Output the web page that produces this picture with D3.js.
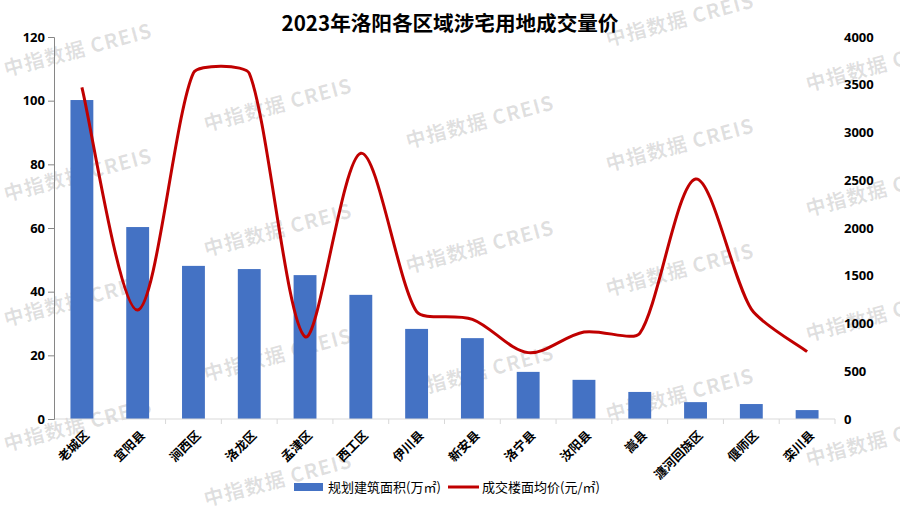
<!DOCTYPE html>
<html><head><meta charset="utf-8">
<script src="https://cdn.jsdelivr.net/npm/d3@7"></script>
<style>
html,body{margin:0;padding:0;background:#fff;}
svg{display:block;font-family:"Noto Sans CJK SC","Noto Sans",sans-serif;}
</style></head>
<body><svg id="chart" width="900" height="510"></svg>
<script>
const categories = ["老城区","宜阳县","涧西区","洛龙区","孟津区","西工区","伊川县","新安县","洛宁县","汝阳县","嵩县","瀍河回族区","偃师区","栾川县"];
const areaValues = [100.2, 60.3, 48.1, 47.1, 45.2, 39.0, 28.3, 25.4, 14.8, 12.3, 8.5, 5.3, 4.7, 2.8];
const priceValues = [3473, 1141, 3625, 3620, 862, 2782, 1124, 1044, 695, 911, 897, 2513, 1150, 705];
const leftTicks = [0, 20, 40, 60, 80, 100, 120];
const rightTicks = [0, 500, 1000, 1500, 2000, 2500, 3000, 3500, 4000];
const seriesNames = ["规划建筑面积(万㎡)", "成交楼面均价(元/㎡)"];
const title = "2023年洛阳各区域涉宅用地成交量价";
const watermark = "中指数据 CREIS";

const svg = d3.select("#chart");
const W = 900, H = 510;
const m = {left: 54, right: 65, top: 37, bottom: 91};
const x = d3.scaleBand().domain(categories).range([m.left, W - m.right]).paddingInner(0.59).paddingOuter(0.295);
const xb = d3.scaleBand().domain(categories).range([m.left, W - m.right]);
const yL = d3.scaleLinear().domain([0, 120]).range([H - m.bottom, m.top]);
const yR = d3.scaleLinear().domain([0, 4000]).range([H - m.bottom, m.top]);

// watermark
const wmCols = [78, 278, 480, 680, 880];
const wmStart = [50, 105, 122, 20, 65];
const wm = svg.append("g");
wmCols.forEach((cx, i) => {
  for (let cy = wmStart[i]; cy < H - 15; cy += 125) {
    wm.append("text").attr("transform", `translate(${cx},${cy}) rotate(-15)`)
      .attr("text-anchor", "middle").attr("dy", "0.35em")
      .style("font-size", "20px").style("font-weight", "bold").style("letter-spacing", "1px")
      .attr("fill", "#000").attr("fill-opacity", 0.12).text(watermark);
  }
});

// title
svg.append("text").attr("x", 450).attr("y", 31).attr("text-anchor", "middle")
  .style("font-size", "20.6px").style("font-weight", "bold").attr("fill", "#000").text(title);

// bars
svg.append("g").selectAll("rect").data(areaValues).join("rect")
  .attr("x", (d, i) => x(categories[i])).attr("width", x.bandwidth())
  .attr("y", d => yL(d)).attr("height", d => yL(0) - yL(d))
  .attr("fill", "#4472C4");

// x axis
const xAxis = svg.append("g").attr("transform", `translate(0,${yL(0)})`);
xAxis.append("line").attr("x1", m.left).attr("x2", W - m.right).attr("stroke", "#d9d9d9").attr("stroke-width", 1);
xAxis.selectAll("line.tk").data(categories.map((c, i) => i)).join("line").attr("class", "tk")
  .attr("x1", i => xb(categories[i]) + xb.bandwidth()).attr("x2", i => xb(categories[i]) + xb.bandwidth())
  .attr("y1", 0).attr("y2", 5).attr("stroke", "#d9d9d9");
xAxis.selectAll("text").data(categories).join("text")
  .attr("transform", d => `translate(${xb(d) + xb.bandwidth() / 2 + 5},${14}) rotate(-45)`)
  .attr("text-anchor", "end").attr("dy", "0.35em")
  .style("font-size", "12.5px").style("font-weight", "bold").attr("fill", "#000").text(d => d);

// left axis
const la = svg.append("g").attr("transform", `translate(${m.left},0)`)
  .call(d3.axisLeft(yL).tickValues(leftTicks).tickSize(6).tickPadding(3));
la.select(".domain").attr("stroke", "#868686");
la.selectAll(".tick line").attr("stroke", "#868686");
la.selectAll("text").style("font-size", "13px").style("font-weight", "bold").attr("fill", "#000")
  .style("font-family", "'Noto Sans', sans-serif");

// right axis (labels only)
const ra = svg.append("g").attr("transform", `translate(${W - m.right},0)`)
  .call(d3.axisRight(yR).tickValues(rightTicks).tickFormat(d3.format("d")).tickSize(0).tickPadding(9));
ra.select(".domain").remove();
ra.selectAll("text").style("font-size", "13px").style("font-weight", "bold").attr("fill", "#000")
  .style("font-family", "'Noto Sans', sans-serif");

// smoothed line (spreadsheet-style bezier smoothing, handles limited by segment-length ratio)
function smoothPath(pts) {
  const p = d3.path();
  const n = pts.length;
  const dist = (a, b) => Math.hypot(b[0] - a[0], b[1] - a[1]);
  p.moveTo(pts[0][0], pts[0][1]);
  for (let i = 0; i < n - 1; i++) {
    const p0 = pts[Math.max(i - 1, 0)], p1 = pts[i], p2 = pts[i + 1], p3 = pts[Math.min(i + 2, n - 1)];
    const d01 = dist(p0, p1), d12 = dist(p1, p2), d23 = dist(p2, p3);
    const r1 = d01 > 0 ? Math.min(1, d12 / d01) : 1;
    const r2 = d23 > 0 ? Math.min(1, d12 / d23) : 1;
    const c1 = [p1[0] + (p2[0] - p0[0]) / 6 * r1, p1[1] + (p2[1] - p0[1]) / 6 * r1];
    const c2 = [p2[0] - (p3[0] - p1[0]) / 6 * r2, p2[1] - (p3[1] - p1[1]) / 6 * r2];
    p.bezierCurveTo(c1[0], c1[1], c2[0], c2[1], p2[0], p2[1]);
  }
  return p.toString();
}
const linePts = priceValues.map((d, i) => [xb(categories[i]) + xb.bandwidth() / 2, yR(d)]);
svg.append("path").attr("d", smoothPath(linePts)).attr("fill", "none")
  .attr("stroke", "#C00000").attr("stroke-width", 3);

// legend
const lg = svg.append("g").attr("transform", "translate(0,487)");
lg.append("rect").attr("x", 294).attr("y", -4).attr("width", 29).attr("height", 8).attr("fill", "#4472C4");
lg.append("text").attr("x", 328).attr("dy", "0.35em").style("font-size", "13px").attr("fill", "#000").text(seriesNames[0]);
lg.append("line").attr("x1", 448).attr("x2", 479).attr("stroke", "#C00000").attr("stroke-width", 3);
lg.append("text").attr("x", 482).attr("dy", "0.35em").style("font-size", "13px").attr("fill", "#000").text(seriesNames[1]);
</script></body></html>
